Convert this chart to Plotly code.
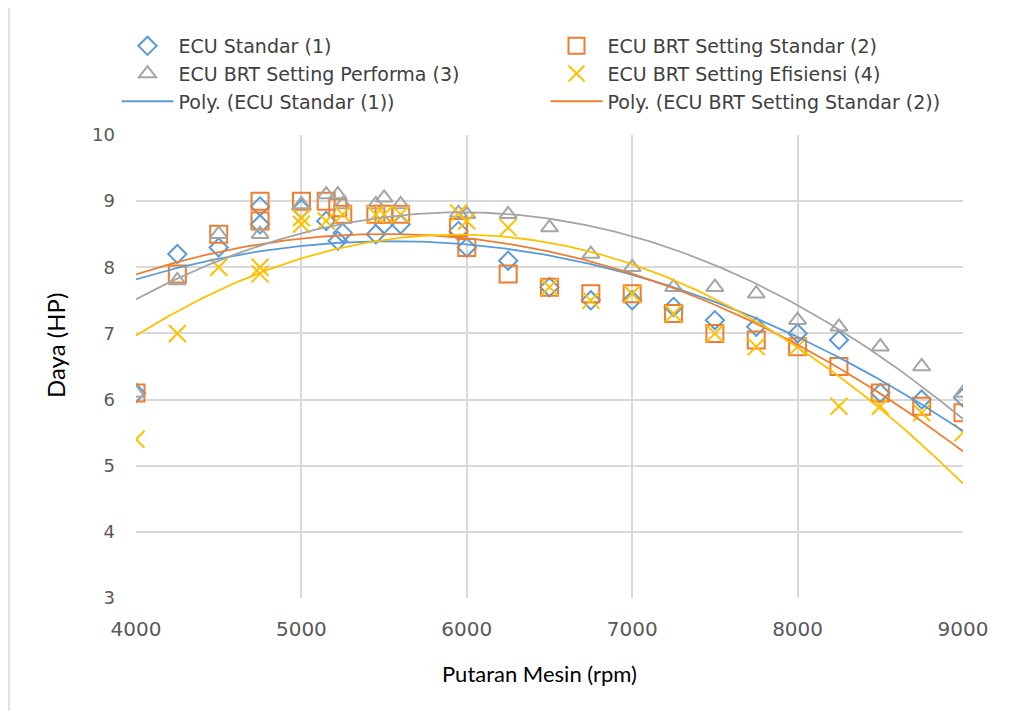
import numpy as np
import plotly.graph_objects as go

# ---- data ----
rpm_1 = [4000, 4250, 4500, 4750, 4750, 5000, 5150, 5220, 5250, 5450, 5500, 5600, 5950, 6000,
         6250, 6500, 6750, 7000, 7250, 7500, 7750, 8000, 8250, 8500, 8750, 9000]
hp_1 = [6.1, 8.2, 8.3, 8.65, 8.92, 8.88, 8.7, 8.4, 8.52, 8.5, 8.65, 8.65, 8.55, 8.3,
        8.1, 7.7, 7.5, 7.5, 7.4, 7.2, 7.1, 7.0, 6.9, 6.1, 6.0, 6.03]

rpm_2 = [4000, 4250, 4500, 4750, 4750, 5000, 5150, 5220, 5250, 5450, 5500, 5600, 5950, 6000,
         6250, 6500, 6750, 7000, 7250, 7500, 7750, 8000, 8250, 8500, 8750, 9000]
hp_2 = [6.1, 7.9, 8.5, 8.7, 9.0, 9.0, 9.0, 8.9, 8.8, 8.8, 8.8, 8.8, 8.6, 8.3,
        7.9, 7.7, 7.6, 7.6, 7.3, 7.0, 6.9, 6.8, 6.5, 6.1, 5.9, 5.8]

rpm_3 = [4000, 4250, 4500, 4750, 5000, 5150, 5220, 5250, 5450, 5500, 5600, 5950, 6000,
         6250, 6500, 6750, 7000, 7250, 7500, 7750, 8000, 8250, 8500, 8750, 9000]
hp_3 = [6.1, 7.8, 8.5, 8.5, 8.95, 9.1, 9.1, 8.95, 8.95, 9.05, 8.95, 8.82, 8.8,
        8.8, 8.6, 8.2, 8.0, 7.7, 7.7, 7.6, 7.2, 7.1, 6.8, 6.5, 6.1]

rpm_4 = [4000, 4250, 4500, 4750, 4750, 5000, 5000, 5150, 5250, 5450, 5500, 5600, 5950, 6000,
         6250, 6500, 6750, 7000, 7250, 7500, 7750, 8000, 8250, 8500, 8750, 9000]
hp_4 = [5.4, 7.0, 8.0, 8.0, 7.9, 8.75, 8.65, 8.7, 8.8, 8.8, 8.8, 8.8, 8.82, 8.7,
        8.6, 7.7, 7.5, 7.6, 7.3, 7.0, 6.8, 6.8, 5.9, 5.9, 5.8, 5.5]

names = ["ECU Standar (1)", "ECU BRT Setting Standar (2)",
         "ECU BRT Setting Performa (3)", "ECU BRT Setting Efisiensi (4)"]
x_ticks = [4000, 5000, 6000, 7000, 8000, 9000]
y_ticks = [3, 4, 5, 6, 7, 8, 9, 10]

colors = ["#5B9BD5", "#ED7D31", "#A5A5A5", "#FFC000"]
symbols = ["diamond-open", "square-open", "triangle-up-open", "x-thin-open"]
sizes = [14, 17, 15, 17]

series = [(rpm_1, hp_1), (rpm_2, hp_2), (rpm_3, hp_3), (rpm_4, hp_4)]

fig = go.Figure()
for i, (xs, ys) in enumerate(series):
    fig.add_trace(go.Scatter(
        x=xs, y=ys, mode="markers", name=names[i],
        marker=dict(symbol=symbols[i], size=sizes[i], color=colors[i],
                    line=dict(width=2, color=colors[i])),
    ))

# polynomial (order 2) trendlines fitted from the data above
for i, (xs, ys) in enumerate(series):
    xa = np.array(xs, dtype=float)
    coef = np.polyfit(xa / 1000.0, np.array(ys), 2)
    xx = np.linspace(min(xs), max(xs), 200)
    yy = np.polyval(coef, xx / 1000.0)
    fig.add_trace(go.Scatter(
        x=xx, y=yy, mode="lines", name="Poly. (" + names[i] + ")",
        line=dict(color=colors[i], width=1.8),
        showlegend=(i < 2),
    ))

W, H = 1021, 711
DX, DY = 9, 7          # page offset of the plot div
PL, PR, PT, PB = 137, 964, 134, 597   # target plot area (screen px)
pw, ph = PR - PL, PB - PT
L, T = PL - DX, PT - DY
R = W - L - pw
B = H - T - ph


def px_x(px):
    return (px - PL) / pw


def px_y(py):
    return (PB - py) / ph


fig.update_layout(
    width=W, height=H,
    margin=dict(l=L, r=R, t=T, b=B, autoexpand=False),
    paper_bgcolor="white", plot_bgcolor="white",
    font=dict(family="Lato, Noto Sans, sans-serif", color="#404040"),
    legend=dict(
        orientation="h", x=px_x(117.5), xanchor="left",
        y=px_y(26), yanchor="top",
        font=dict(size=19, color="#404040", family="DejaVu Sans"),
        entrywidth=362, entrywidthmode="pixels",
        tracegroupgap=0, itemwidth=52,
        bgcolor="rgba(0,0,0,0)",
    ),
    showlegend=True,
)
fig.update_xaxes(
    range=[4000, 9000], tickvals=x_ticks, ticktext=[str(v) for v in x_ticks],
    showgrid=True, gridcolor="#D9D9D9", gridwidth=1.5,
    zeroline=False, showline=False,
    tickfont=dict(size=20, color="#595959", family="DejaVu Sans"),
    ticks="", ticklabelstandoff=17,
)
fig.update_yaxes(
    range=[3, 10], tickvals=y_ticks,
    showgrid=True, gridcolor="#D9D9D9", gridwidth=1.5,
    zeroline=False, showline=False,
    tickfont=dict(size=18, color="#595959", family="DejaVu Sans"),
    ticks="", ticklabelstandoff=20,
)

fig.add_annotation(text="Daya (HP)", xref="paper", yref="paper",
                   x=px_x(56), y=px_y(345), xanchor="center", yanchor="middle",
                   textangle=-90, showarrow=False,
                   font=dict(size=24, color="black", family="Lato"))
fig.add_annotation(text="Putaran Mesin (rpm)", xref="paper", yref="paper",
                   x=px_x(540), y=px_y(672), xanchor="center", yanchor="middle",
                   showarrow=False,
                   font=dict(size=22, color="black", family="Lato"))

# chart-area border at left
fig.add_shape(type="line", xref="paper", yref="paper",
              x0=px_x(10), x1=px_x(10), y0=px_y(720), y1=px_y(0),
              line=dict(color="#D9D9D9", width=1.5))

fig.write_html("out.html")
